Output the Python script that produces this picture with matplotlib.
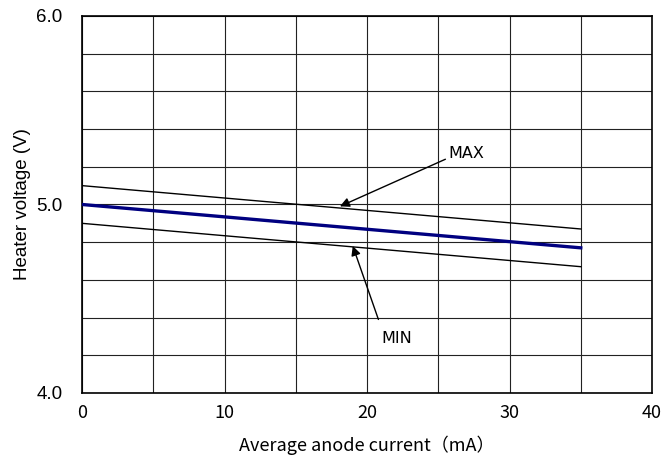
import numpy as np
import matplotlib
matplotlib.use("Agg")
from matplotlib import pyplot as plt

# data
current = [0, 35]
v_typ = [5.00, 4.77]
v_max = [5.10, 4.87]
v_min = [4.90, 4.67]

xticks = [0, 10, 20, 30, 40]
yticks = [4.0, 5.0, 6.0]

plt.rcParams['font.family'] = ['Liberation Sans', 'DejaVu Sans']
cjk = ['Noto Sans CJK JP', 'DejaVu Sans']

fig = plt.figure(figsize=(6.65, 4.62), dpi=100)
ax = fig.add_axes([0.1233, 0.1494, 0.8572, 0.816])

ax.set_xlim(0, 40)
ax.set_ylim(4.0, 6.0)
ax.set_xticks(xticks)
ax.set_yticks(yticks)
ax.set_yticklabels(["%.1f" % v for v in yticks])
ax.set_xticks(np.arange(0, 41, 5), minor=True)
ax.set_yticks(np.arange(4.0, 6.01, 0.2), minor=True)
ax.grid(which='both', color='#222222', linewidth=0.8)
ax.tick_params(which='both', length=0)
ax.tick_params(axis='x', pad=8)
ax.tick_params(axis='y', pad=14)
for lab in ax.get_xticklabels():
    lab.set_family(cjk)
    lab.set_fontsize(13)
for lab in ax.get_yticklabels():
    lab.set_fontsize(13.5)
for s in ax.spines.values():
    s.set_color('black')
    s.set_linewidth(1.2)

ax.plot(current, v_max, color='black', lw=1.0, zorder=3)
ax.plot(current, v_min, color='black', lw=1.0, zorder=3)
ax.plot(current, v_typ, color='#000080', lw=2.4, zorder=4)

arrow = dict(arrowstyle='-|>', color='black', lw=1.0, mutation_scale=14, shrinkA=0, shrinkB=0)
ax.annotate('', xy=(18.1, 4.99), xytext=(25.5, 5.24), arrowprops=arrow, zorder=5)
ax.annotate('', xy=(19.0, 4.78), xytext=(20.8, 4.39), arrowprops=arrow, zorder=5)
ax.text(27.0, 5.27, 'MAX', fontsize=11.5, family='DejaVu Sans', ha='center', va='center',
        bbox=dict(fc='white', ec='none', pad=1), zorder=6)
ax.text(22.1, 4.29, 'MIN', fontsize=11.5, family='DejaVu Sans', ha='center', va='center',
        bbox=dict(fc='white', ec='none', pad=1), zorder=6)

ax.set_xlabel('Average anode current（mA）', fontsize=13, family=cjk, labelpad=10)
ax.set_ylabel('Heater voltage (V)', fontsize=13.5, labelpad=4)

fig.savefig('out.png', dpi=100)
